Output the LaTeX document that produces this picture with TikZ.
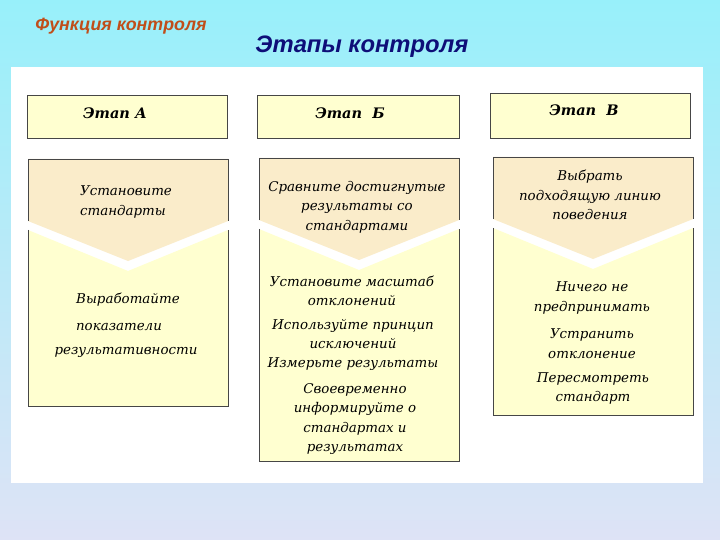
\documentclass[tikz,border=0pt]{standalone}
\usepackage{fontspec}
\setmainfont{DejaVu Serif}
\newfontfamily\headfont{Liberation Sans}
\usetikzlibrary{positioning}
\definecolor{skytop}{RGB}{152,240,250}
\definecolor{skybottom}{RGB}{222,227,246}
\definecolor{stagefill}{RGB}{255,255,208}
\definecolor{tanfill}{RGB}{250,236,202}
\definecolor{edgegray}{RGB}{70,70,70}
\definecolor{titlered}{RGB}{192,78,26}
\definecolor{titleblue}{RGB}{14,14,120}
\tikzstyle{stagebox} = [rectangle, draw=edgegray, fill=stagefill, minimum width=200pt, minimum height=43pt, inner sep=0pt]
\tikzstyle{stagelabel} = [font=\bfseries\itshape\fontsize{14.5}{16}\selectfont]
\tikzstyle{itemtext} = [align=center, inner sep=0pt, font=\itshape\fontsize{13.4}{19.5}\selectfont]
\tikzstyle{rim} = [draw=edgegray, line width=0.6pt]
% chevron column: left x, right x, top y, bottom y
\newcommand{\chevroncol}[4]{%
  \fill[tanfill] (#1,#3) -- (#2,#3) -- (#2,#3+62) -- ({(#1+#2)/2},#3+102) -- (#1,#3+62) -- cycle;
  \fill[stagefill] (#1,#3+71) -- ({(#1+#2)/2},#3+112) -- (#2,#3+71) -- (#2,#4) -- (#1,#4) -- cycle;
  \draw[rim] (#1,#3+62) -- (#1,#3) -- (#2,#3) -- (#2,#3+62);
  \draw[rim] (#1,#3+71) -- (#1,#4) -- (#2,#4) -- (#2,#3+71);
}

\begin{document}
\begin{tikzpicture}[x=1pt, y=-1pt]
  \useasboundingbox (0,0) rectangle (720,540);
  \shade[top color=skytop, bottom color=skybottom] (0,0) rectangle (720,540);
  \fill[white] (11,67) rectangle (703,483);

  \node (func) [font=\headfont\bfseries\itshape\fontsize{17.8}{20}\selectfont, text=titlered] at (121,26) {Функция контроля};
  \node (title) [font=\headfont\bfseries\itshape\fontsize{23.8}{26}\selectfont, text=titleblue] at (362,47) {Этапы контроля};

  % stage headers
  \node (stageA) [stagebox] at (127,116.5) {};
  \node (stageB) [stagebox, minimum width=202pt] at (358,116.5) {};
  \node (stageC) [stagebox, minimum height=45pt] at (590.5,115.5) {};
  \node (labelA) [stagelabel] at (115,113) {Этап А};
  \node (labelB) [stagelabel] at (350,113) {Этап~~Б};
  \node (labelC) [stagelabel] at (584,110) {Этап~~В};

  % columns
  \chevroncol{28}{228}{159}{406}
  \chevroncol{259}{459}{158}{461}
  \chevroncol{493}{693}{157}{415}

  % stage A
  \node (normA) [itemtext, align=left] at (126,202) {Установите\\стандарты};
  \node (workA) [itemtext] at (128,300) {Выработайте};
  \node (showA) [itemtext] at (119,327) {показатели};
  \node (resA) [itemtext] at (126,352) {результативности};

  % stage B
  \node (compB) [itemtext] at (357,207) {Сравните достигнутые\\результаты со\\стандартами};
  \node (scaleB) [itemtext] at (352,291) {Установите масштаб\\отклонений};
  \node (exclB) [itemtext] at (353,334) {Используйте принцип\\исключений};
  \node (measB) [itemtext] at (353,364) {Измерьте результаты};
  \node (infoB) [itemtext] at (355,419) {Своевременно\\информируйте о\\стандартах и\\результатах};

  % stage C
  \node (lineC) [itemtext] at (590,195) {Выбрать\\подходящую линию\\поведения};
  \node (noneC) [itemtext] at (592,298) {Ничего не\\предпринимать};
  \node (fixC) [itemtext] at (592,343.5) {Устранить\\отклонение};
  \node (reviC) [itemtext] at (593,388.5) {Пересмотреть\\стандарт};
\end{tikzpicture}
\end{document}
